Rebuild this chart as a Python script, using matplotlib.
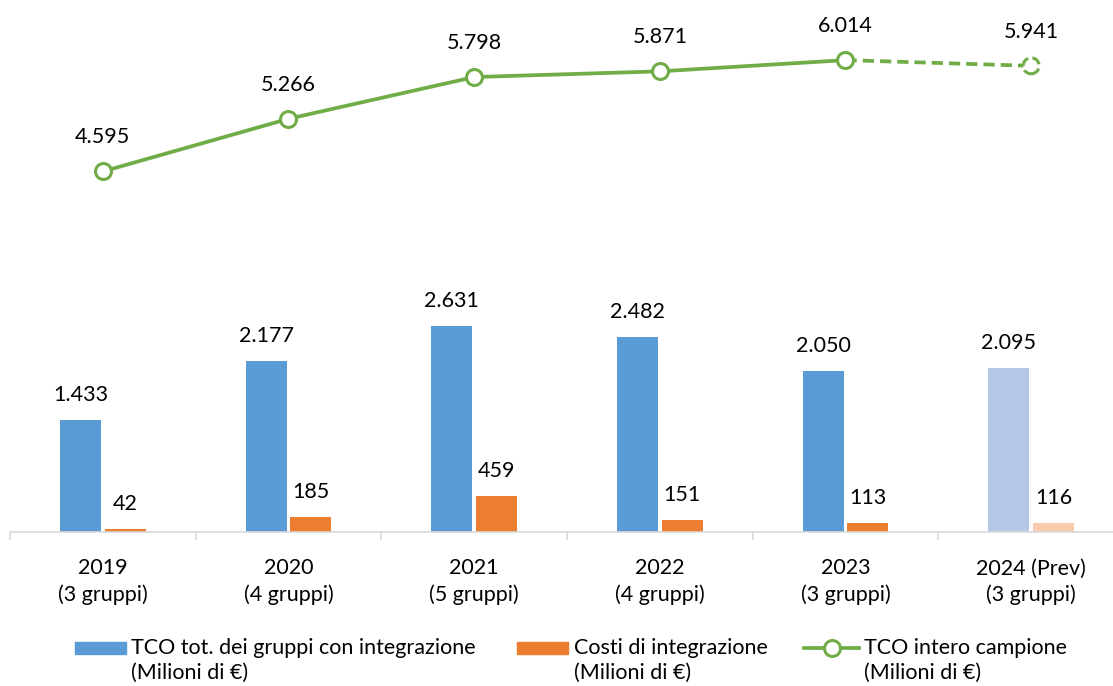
import matplotlib
matplotlib.use("Agg")
import matplotlib.pyplot as plt
from matplotlib.patches import Rectangle
from matplotlib.lines import Line2D
import numpy as np

plt.rcParams['font.family'] = ['Lato', 'DejaVu Sans']

categories = ["2019\n(3 gruppi)", "2020\n(4 gruppi)", "2021\n(5 gruppi)",
              "2022\n(4 gruppi)", "2023\n(3 gruppi)", "2024 (Prev)\n(3 gruppi)"]
tco_gruppi = [1433, 2177, 2631, 2482, 2050, 2095]
costi_integrazione = [42, 185, 459, 151, 113, 116]
tco_campione = [4595, 5266, 5798, 5871, 6014, 5941]
legend_labels = ["TCO tot. dei gruppi con integrazione\n(Milioni di €)",
                 "Costi di integrazione\n(Milioni di €)",
                 "TCO intero campione\n(Milioni di €)"]

BLUE = "#5B9BD5"
ORANGE = "#ED7D31"
GREEN = "#70AD47"
BLUE_L = "#B4C7E7"
ORANGE_L = "#F8CBAD"
GRID = "#D9D9D9"

W, H = 1113, 686
fig = plt.figure(figsize=(W / 100, H / 100), dpi=100)

def fx(px):
    return px / W

def fy(py):
    return 1 - py / H

ax_left, ax_right, ax_bottom, ax_top = 10, 1124, 532, 0
ax = fig.add_axes([fx(ax_left), fy(ax_bottom), (ax_right - ax_left) / W, (ax_bottom - ax_top) / H])
ax.set_xlim(-0.5, 5.5)
ax.set_ylim(0, 6780)

x = np.arange(len(categories))
bw = 0.22
off = 0.12
blue_cols = [BLUE] * (len(x) - 1) + [BLUE_L]
orange_cols = [ORANGE] * (len(x) - 1) + [ORANGE_L]
ax.bar(x - off, tco_gruppi, width=bw, color=blue_cols, zorder=2)
ax.bar(x + off, costi_integrazione, width=bw, color=orange_cols, zorder=2)

def fmt(v):
    return f"{v:,}".replace(",", ".")

fs = 15.5
for xi, v in zip(x, tco_gruppi):
    ax.annotate(fmt(v), (xi - off, v), xytext=(0, 25), textcoords="offset pixels",
                ha="center", va="center", fontsize=fs, color="black")
for xi, v in zip(x, costi_integrazione):
    ax.annotate(fmt(v), (xi + off, v), xytext=(0, 25), textcoords="offset pixels",
                ha="center", va="center", fontsize=fs, color="black")

# line
ax.plot(x[:-1], tco_campione[:-1], color=GREEN, lw=2.7, zorder=3, solid_capstyle="round")
ax.plot(x[-2:], tco_campione[-2:], color=GREEN, lw=2.7, zorder=3, linestyle=(0, (3, 1.6)))
ax.plot(x[:-1], tco_campione[:-1], linestyle="none", marker="o", markersize=11.5,
        markerfacecolor="white", markeredgecolor=GREEN, markeredgewidth=2.2, zorder=4)
ax.scatter(x[-1:], tco_campione[-1:], s=11.5 ** 2, facecolors="white", edgecolors=GREEN,
           linewidths=2.2, linestyle=(0, (3.2, 1.4)), zorder=4)
for xi, v in zip(x, tco_campione):
    ax.annotate(fmt(v), (xi, v), xytext=(0, 34), textcoords="offset pixels",
                ha="center", va="center", fontsize=fs, color="black")

# axes styling
for s in ["top", "right", "left"]:
    ax.spines[s].set_visible(False)
ax.spines["bottom"].set_color(GRID)
ax.spines["bottom"].set_linewidth(1.2)
ax.set_yticks([])
ax.set_xticks(x)
ax.set_xticklabels(categories, fontsize=fs, linespacing=1.38)
ax.tick_params(axis="x", which="major", length=0, pad=19, colors="black")
ax.set_xticks(np.arange(-0.5, 6.0, 1.0), minor=True)
ax.tick_params(axis="x", which="minor", length=6, width=1.2, color=GRID, direction="out")

# manual legend
ly1, ly2 = 648, 673

def legend_text(xpx, label):
    l1, l2 = label.split("\n")
    fig.text(fx(xpx), fy(ly1), l1, fontsize=fs, va="center", ha="left")
    fig.text(fx(xpx), fy(ly2), l2, fontsize=fs, va="center", ha="left")

fig.add_artist(Rectangle((fx(75), fy(654)), fx(126) - fx(75), (654 - 642) / H,
                         transform=fig.transFigure, color=BLUE))
legend_text(131, legend_labels[0])
fig.add_artist(Rectangle((fx(517), fy(654)), fx(568) - fx(517), (654 - 642) / H,
                         transform=fig.transFigure, color=ORANGE))
legend_text(574, legend_labels[1])
fig.add_artist(Line2D([fx(804), fx(859)], [fy(648), fy(648)], transform=fig.transFigure,
                      color=GREEN, lw=2.7))
fig.add_artist(Line2D([fx(832)], [fy(648)], transform=fig.transFigure, marker="o",
                      markersize=11.5, markerfacecolor="white", markeredgecolor=GREEN,
                      markeredgewidth=2.2, linestyle="none"))
legend_text(864, legend_labels[2])

fig.savefig("out.png", dpi=100)
